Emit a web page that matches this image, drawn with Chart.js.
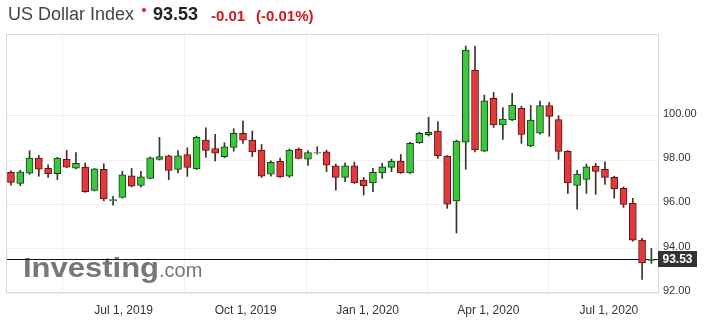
<!DOCTYPE html>
<html>
<head>
<meta charset="utf-8">
<script src="https://cdn.jsdelivr.net/npm/chart.js@4.4.0/dist/chart.umd.min.js"></script>
<style>
  html, body { margin: 0; padding: 0; background: #fff; }
  #wrap { position: relative; width: 711px; height: 329px; font-family: "Liberation Sans", Arial, sans-serif; }
  #chart { position: absolute; left: 0; top: 0; }
  .hd { position: absolute; top: 4px; line-height: 20px; white-space: nowrap; }
  #name { left: 8px; font-size: 18px; color: #444; }
  #star { position: absolute; left: 142px; top: 8px; width: 4px; height: 4px; background: #d8333a; transform: rotate(45deg); border-radius: 1px; }
  #last { left: 153px; font-size: 18px; font-weight: bold; color: #222; }
  #chg { left: 211px; font-size: 15px; font-weight: bold; color: #d0171f; top: 6px; }
  #pct { left: 256px; font-size: 15px; font-weight: bold; color: #d0171f; top: 6px; }
</style>
</head>
<body>
<div id="wrap">
  <canvas id="chart" width="711" height="329"></canvas>
  <span class="hd" id="name">US Dollar Index</span>
  <span id="star"></span>
  <span class="hd" id="last">93.53</span>
  <span class="hd" id="chg">-0.01</span>
  <span class="hd" id="pct">(-0.01%)</span>
</div>
<script>
// weekly candles, week starting Sunday
const weeks = [
  '2019-04-07', '2019-04-14', '2019-04-21', '2019-04-28', '2019-05-05', '2019-05-12', '2019-05-19', '2019-05-26',
  '2019-06-02', '2019-06-09', '2019-06-16', '2019-06-23', '2019-06-30', '2019-07-07', '2019-07-14', '2019-07-21',
  '2019-07-28', '2019-08-04', '2019-08-11', '2019-08-18', '2019-08-25', '2019-09-01', '2019-09-08', '2019-09-15',
  '2019-09-22', '2019-09-29', '2019-10-06', '2019-10-13', '2019-10-20', '2019-10-27', '2019-11-03', '2019-11-10',
  '2019-11-17', '2019-11-24', '2019-12-01', '2019-12-08', '2019-12-15', '2019-12-22', '2019-12-29', '2020-01-05',
  '2020-01-12', '2020-01-19', '2020-01-26', '2020-02-02', '2020-02-09', '2020-02-16', '2020-02-23', '2020-03-01',
  '2020-03-08', '2020-03-15', '2020-03-22', '2020-03-29', '2020-04-05', '2020-04-12', '2020-04-19', '2020-04-26',
  '2020-05-03', '2020-05-10', '2020-05-17', '2020-05-24', '2020-05-31', '2020-06-07', '2020-06-14', '2020-06-21',
  '2020-06-28', '2020-07-05', '2020-07-12', '2020-07-19', '2020-07-26', '2020-08-02'
];

const opens = [
  97.44, 96.94, 97.41, 98.09, 97.63, 97.38, 98.03, 97.63, 97.68, 96.63, 97.58, 96.17, 96.31, 97.29,
  96.85, 97.17, 98.03, 98.19, 97.58, 98.24, 97.60, 98.90, 98.52, 98.15, 98.57, 99.20, 98.90, 98.45,
  97.36, 97.94, 97.27, 98.48, 98.04, 98.31, 98.37, 97.74, 97.22, 97.74, 97.09, 96.97, 97.42, 97.67,
  97.95, 97.42, 98.78, 99.14, 99.30, 98.18, 96.15, 98.80, 102.06, 98.40, 100.78, 99.58, 99.81, 100.33,
  98.64, 99.21, 100.46, 99.82, 98.39, 96.85, 97.12, 97.73, 97.58, 97.22, 96.72, 96.04, 94.39, 93.47
];
const highs = [
  97.51, 97.54, 98.42, 98.21, 97.78, 98.12, 98.43, 98.34, 97.87, 97.62, 97.83, 96.36, 97.49, 97.62,
  97.49, 98.14, 99.02, 98.22, 98.42, 98.55, 99.08, 99.45, 99.16, 98.78, 99.41, 99.76, 99.31, 98.70,
  97.96, 98.09, 98.50, 98.55, 98.42, 98.60, 98.45, 97.82, 97.87, 97.91, 97.22, 97.62, 97.85, 98.04,
  98.25, 98.80, 99.25, 99.93, 99.73, 98.20, 98.90, 103.14, 103.14, 100.93, 101.05, 100.36, 101.01, 100.43,
  100.46, 100.66, 100.60, 100.00, 98.42, 97.54, 97.82, 97.85, 97.92, 97.27, 96.79, 96.27, 94.47, 94.01
];
const lows = [
  96.87, 96.84, 97.35, 97.27, 97.22, 97.11, 97.65, 97.60, 96.54, 96.60, 96.16, 95.96, 96.28, 96.79,
  96.78, 97.15, 98.00, 97.11, 97.42, 97.26, 97.57, 98.12, 97.96, 98.10, 98.40, 98.75, 98.15, 97.21,
  97.27, 97.21, 97.22, 98.05, 97.76, 98.27, 97.47, 96.64, 97.02, 96.94, 96.42, 96.57, 97.17, 97.47,
  97.40, 97.40, 98.75, 99.08, 98.07, 95.82, 94.71, 97.58, 98.37, 98.38, 99.47, 98.93, 99.78, 98.75,
  98.60, 99.17, 99.07, 98.03, 96.49, 95.78, 96.49, 96.45, 96.90, 96.28, 95.86, 94.34, 92.61, 93.34
];
const closes = [
  96.99, 97.47, 98.09, 97.59, 97.38, 98.09, 97.68, 97.85, 96.57, 97.60, 96.24, 96.21, 97.33, 96.82,
  97.24, 98.10, 98.15, 97.53, 98.19, 97.67, 99.02, 98.43, 98.31, 98.60, 99.20, 98.90, 98.36, 97.27,
  97.89, 97.24, 98.45, 98.07, 98.34, 98.34, 97.77, 97.22, 97.74, 96.97, 96.84, 97.44, 97.69, 97.95,
  97.42, 98.75, 99.20, 99.25, 98.18, 96.01, 98.85, 102.96, 98.45, 100.67, 99.58, 99.85, 100.48, 99.15,
  99.80, 100.46, 99.97, 98.39, 96.97, 97.36, 97.69, 97.49, 97.22, 96.70, 96.00, 94.38, 93.36, 93.53
];

const xTickDates = ['2019-07-01', '2019-10-01', '2020-01-01', '2020-04-01', '2020-07-01'];
const xTickLabels = ['Jul 1, 2019', 'Oct 1, 2019', 'Jan 1, 2020', 'Apr 1, 2020', 'Jul 1, 2020'];
const yTicks = [92, 94, 96, 98, 100];
const lastPrice = 93.53;

const UP = '#3cc83c', UP_EDGE = '#163d16';
const DOWN = '#e03a3c', DOWN_EDGE = '#5e1212';
const FONT = '"Liberation Sans", Arial, sans-serif';

const isUp = opens.map((o, i) => closes[i] >= o);
const bodies = weeks.map((w, i) => ({ x: Date.parse(w), y: [opens[i], closes[i]] }));
const wicks = weeks.map((w, i) => ({ x: Date.parse(w), y: [lows[i], highs[i]] }));

// light frame around the plot area, watermark and price line behind the candles
const backdrop = {
  id: 'backdrop',
  beforeDatasetsDraw(chart) {
    const { ctx, chartArea: a } = chart;
    ctx.save();
    ctx.strokeStyle = '#d9d9d9';
    ctx.lineWidth = 1;
    ctx.strokeRect(a.left - 0.5, a.top - 0.5, a.right - a.left + 1, a.bottom - a.top);

    ctx.fillStyle = '#777';
    ctx.textBaseline = 'alphabetic';
    ctx.font = 'bold 28px ' + FONT;
    const w = ctx.measureText('Investing').width;
    ctx.save();
    ctx.translate(23, 277);
    ctx.scale(136 / w, 1);
    ctx.fillText('Investing', 0, 0);
    ctx.restore();
    ctx.font = '20px ' + FONT;
    ctx.fillText('.com', 159, 277);

    // current price line
    const y = Math.round(chart.scales.y.getPixelForValue(lastPrice)) + 0.5;
    ctx.strokeStyle = '#111';
    ctx.beginPath();
    ctx.moveTo(a.left, y);
    ctx.lineTo(a.right, y);
    ctx.stroke();
    ctx.restore();
  },
  afterDraw(chart) {
    const { ctx, chartArea: a } = chart;
    const y = chart.scales.y.getPixelForValue(lastPrice);
    ctx.save();
    ctx.fillStyle = '#333';
    ctx.fillRect(a.right, Math.round(y) - 8, 39, 16);
    ctx.fillStyle = '#fff';
    ctx.font = 'bold 12px ' + FONT;
    ctx.textAlign = 'center';
    ctx.textBaseline = 'middle';
    ctx.fillText(lastPrice.toFixed(2), a.right + 19.5, Math.round(y) + 0.5);
    ctx.restore();
  }
};

new Chart(document.getElementById('chart'), {
  type: 'bar',
  data: {
    datasets: [
      {
        data: bodies,
        order: 0,
        grouped: false,
        barThickness: 7,
        borderWidth: 1,
        borderSkipped: false,
        backgroundColor: isUp.map(u => u ? UP : DOWN),
        borderColor: isUp.map(u => u ? UP_EDGE : DOWN_EDGE)
      },
      {
        data: wicks,
        order: 1,
        grouped: false,
        barThickness: 1,
        borderWidth: 0,
        backgroundColor: isUp.map(u => u ? '#2d3a2d' : '#4a2a2a')
      }
    ]
  },
  options: {
    responsive: false,
    animation: false,
    layout: { padding: { left: 7, top: 35, right: 0, bottom: 0 } },
    plugins: { legend: { display: false }, tooltip: { enabled: false } },
    scales: {
      x: {
        type: 'linear',
        offset: false,
        min: Date.parse('2019-04-04'),
        max: Date.parse('2020-08-07'),
        border: { display: false },
        grid: { color: '#f1f1f1', drawTicks: false },
        afterBuildTicks: s => { s.ticks = xTickDates.map(d => ({ value: Date.parse(d) })); },
        afterFit: s => { s.height = 36; },
        ticks: {
          autoSkip: false,
          maxRotation: 0,
          padding: 10,
          color: '#333',
          font: { family: FONT, size: 12 },
          callback: (v, i) => xTickLabels[i]
        }
      },
      y: {
        position: 'right',
        min: 92,
        max: 103.64,
        border: { display: false },
        grid: { color: '#f1f1f1', drawTicks: false },
        afterBuildTicks: s => { s.ticks = yTicks.map(v => ({ value: v })); },
        afterFit: s => { s.width = 53; },
        ticks: {
          padding: 5,
          labelOffset: -2,
          color: '#333',
          font: { family: FONT, size: 11 },
          callback: v => v.toFixed(2)
        }
      }
    }
  },
  plugins: [backdrop]
});
</script>
</body>
</html>
